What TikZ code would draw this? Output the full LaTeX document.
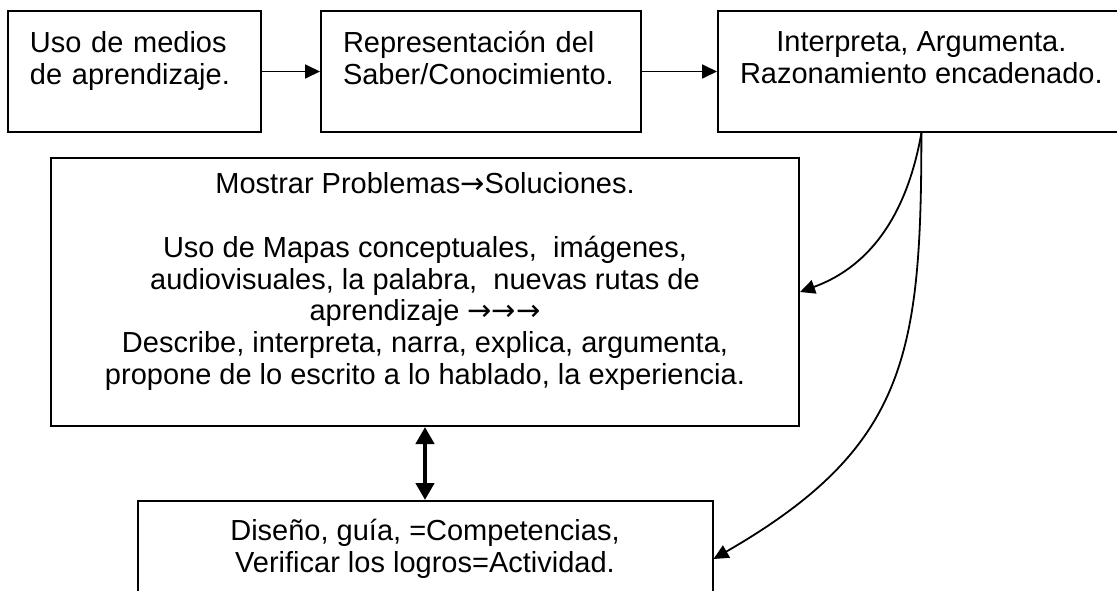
\documentclass[tikz,border=0pt]{standalone}
\usepackage{fontspec}
\setmainfont{Liberation Sans}
\newfontfamily\flechas{DejaVu Sans}
\usetikzlibrary{arrows.meta,positioning}
\newcommand{\bajar}{\rule[-27pt]{0pt}{0pt}}
\newcommand{\fl}{{\flechas →}}

\begin{document}
\begin{tikzpicture}[x=1pt, y=1pt,
  caja/.style={draw, line width=2pt, minimum height=121pt, inner xsep=22pt, inner ysep=0pt, font=\fontsize{29}{32}\selectfont},
  flecha/.style={-{Triangle[length=15pt,width=14pt]}, line width=1.8pt}]
\useasboundingbox (0,0) rectangle (1117,-591);
\clip (0,0) rectangle (1117,-591);
\node[caja, text width=209pt, align=left] (medios) at (134.5,-71.5) {Uso de medios\\de aprendizaje.\bajar};
\node[caja, text width=276pt, align=left, right=58pt of medios] (saber) {Representación del\\Saber/Conocimiento.\bajar};
\node[caja, minimum width=406pt, align=center, right=75pt of saber] (razona) {Interpreta, Argumenta.\\Razonamiento encadenado.\bajar};
\node[caja, minimum width=748pt, minimum height=268pt, align=center, font=\fontsize{29}{31.8}\selectfont] (mapas) at (425,-292) {Mostrar Problemas\fl Soluciones.\\[31.8pt]Uso de Mapas conceptuales,~ imágenes,\\audiovisuales, la palabra,~ nuevas rutas de\\aprendizaje \fl\fl\fl\\Describe, interpreta, narra, explica, argumenta,\\propone de lo escrito a lo hablado, la experiencia.\bajar};
\node[caja, minimum width=575pt, minimum height=116pt, align=center, below=73pt of mapas] (logros) {Diseño, guía, =Competencias,\\Verificar los logros=Actividad.\bajar};

\draw[flecha] (medios) -- (saber);
\draw[flecha] (saber) -- (razona);
\draw[{Triangle[length=17pt,width=18pt]}-{Triangle[length=17pt,width=18pt]}, line width=4.5pt] (mapas) -- (logros);
\draw[flecha] (razona.south) to[out=-100, in=20] (mapas.east);
\draw[flecha] (razona.south) to[out=-90, in=30, looseness=1.2] (logros.east);
\end{tikzpicture}
\end{document}
